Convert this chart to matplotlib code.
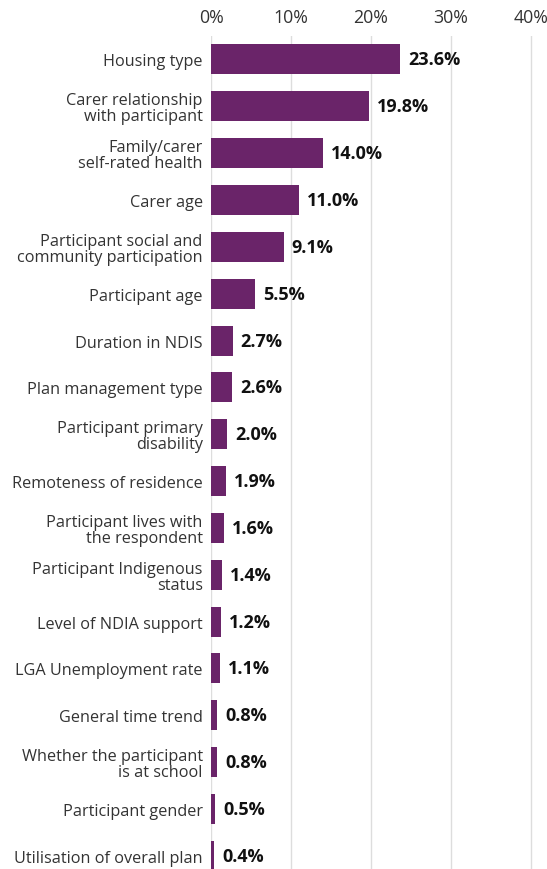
import matplotlib.pyplot as plt

# 要因と寄与率（%）
factors = [
    'Housing type',
    'Carer relationship\nwith participant',
    'Family/carer\nself-rated health',
    'Carer age',
    'Participant social and\ncommunity participation',
    'Participant age',
    'Duration in NDIS',
    'Plan management type',
    'Participant primary\ndisability',
    'Remoteness of residence',
    'Participant lives with\nthe respondent',
    'Participant Indigenous\nstatus',
    'Level of NDIA support',
    'LGA Unemployment rate',
    'General time trend',
    'Whether the participant\nis at school',
    'Participant gender',
    'Utilisation of overall plan',
]
shares = [23.6, 19.8, 14.0, 11.0, 9.1, 5.5, 2.7, 2.6, 2.0, 1.9, 1.6, 1.4, 1.2, 1.1, 0.8, 0.8, 0.5, 0.4]
x_ticks = [0, 10, 20, 30, 40]

plt.rcParams['font.family'] = ['Open Sans', 'DejaVu Sans']

fig = plt.figure(figsize=(5.47, 8.70), dpi=100)
ax = fig.add_axes([211 / 547, 0, 336 / 547, 833 / 870])

pos = list(range(len(factors)))
ax.barh(pos, shares, height=0.64, color='#6A2469', zorder=2)

for p, v in zip(pos, shares):
    ax.text(v + 1.0, p, f'{v:.1f}%', va='center', ha='left',
            fontsize=13, fontweight='bold', color='#111111')

ax.set_xlim(0, 42)
ax.set_ylim(17.28, -0.5)
ax.set_yticks(pos)
ax.set_yticklabels(factors, fontsize=11.7, color='#333333', linespacing=1.0)
ax.set_xticks(x_ticks)
ax.set_xticklabels([f'{t}%' for t in x_ticks], fontsize=12.8, color='#333333')
ax.xaxis.tick_top()
ax.tick_params(axis='both', length=0)
ax.tick_params(axis='y', pad=6)
ax.tick_params(axis='x', pad=7)
ax.grid(axis='x', color='#dddddd', linewidth=1, zorder=0)
for s in ax.spines.values():
    s.set_visible(False)

fig.savefig('out.png', dpi=100)
